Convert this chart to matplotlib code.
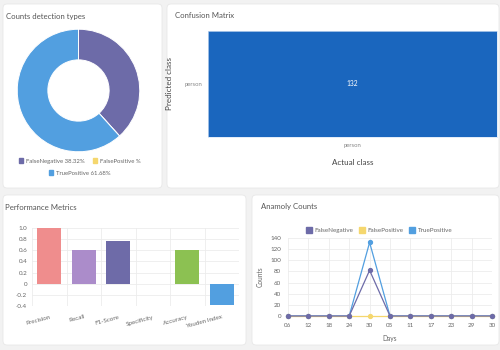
import matplotlib
matplotlib.use("Agg")
import matplotlib.pyplot as plt
from matplotlib.colors import ListedColormap
from matplotlib.patches import FancyBboxPatch, Patch
import numpy as np

plt.rcParams["font.family"] = ["Lato", "DejaVu Sans"]

# --- data ---
donut_labels = ["FalseNegative", "FalsePositive", "TruePositive"]
donut_pct = [38.32, 0.0, 61.68]
donut_legend = ["FalseNegative 38.32%", "FalsePositive %", "TruePositive 61.68%"]

cm_value = 132
cm_class = "person"

metric_names = ["Precision", "Recall", "F1-Score", "Specificity", "Accuracy", "Youden Index"]
metric_values = [1.0, 0.61, 0.76, 0.0, 0.61, -0.39]

days = ["06", "12", "18", "24", "30", "05", "11", "17", "23", "29", "30"]
false_neg = [0, 0, 0, 0, 82, 0, 0, 0, 0, 0, 0]
false_pos = [0, 0, 0, 0, 0, 0, 0, 0, 0, 0, 0]
true_pos = [0, 0, 0, 0, 132, 0, 0, 0, 0, 0, 0]

# --- colours ---
C_FN = "#6d6ba8"
C_FP = "#f5d76e"
C_TP = "#529fe0"
metric_colors = ["#ef8d8d", "#ab8cca", "#6e6ba8", "#f2c94c", "#8cc152", "#529fe0"]
TITLE_C = "#555555"
TICK_C = "#666666"
GRID_C = "#ececec"

W, H = 500, 350
fig = plt.figure(figsize=(W / 100, H / 100), dpi=100)
fig.patch.set_facecolor("#f2f2f2")


def ax_px(x0, y0, x1, y1, **kw):
    return fig.add_axes([x0 / W, 1 - y1 / H, (x1 - x0) / W, (y1 - y0) / H], **kw)


# background cards
bg = ax_px(0, 0, W, H)
bg.set_xlim(0, W)
bg.set_ylim(H, 0)
bg.axis("off")
bg.set_zorder(-5)
for x0, y0, x1, y1 in [(3, 4, 162, 188), (167, 4, 499, 188),
                       (3, 195, 246, 345), (252, 195, 499, 345)]:
    bg.add_patch(FancyBboxPatch((x0, y0), x1 - x0, y1 - y0,
                                boxstyle="round,pad=0,rounding_size=4",
                                fc="white", ec="#e8e8e8", lw=0.6))

TS = 5.6
fig.text(6 / W, 1 - 16 / H, "Counts detection types", fontsize=TS, color=TITLE_C, va="center")
fig.text(175 / W, 1 - 16 / H, "Confusion Matrix", fontsize=TS, color=TITLE_C, va="center")
fig.text(5 / W, 1 - 208 / H, "Performance Metrics", fontsize=TS, color=TITLE_C, va="center")
fig.text(261 / W, 1 - 207 / H, "Anamoly Counts", fontsize=TS, color=TITLE_C, va="center")

# --- donut ---
ax1 = ax_px(16, 28, 141, 153)
ax1.pie(donut_pct, colors=[C_FN, C_FP, C_TP], startangle=90, counterclock=False,
        radius=1, wedgeprops=dict(width=0.5, edgecolor="white", linewidth=0.7))
ax1.set_xlim(-1.02, 1.02)
ax1.set_ylim(-1.02, 1.02)
legend_kw = dict(loc="center", frameon=False, fontsize=4.3, handlelength=0.7,
                 handleheight=0.7, handletextpad=0.5, columnspacing=1.4)
colors3 = [C_FN, C_FP, C_TP]
leg_a = fig.legend([Patch(color=c) for c in colors3[:2]], donut_legend[:2], ncol=2,
                   bbox_to_anchor=(80 / W, 1 - 161 / H), **legend_kw)
leg_b = fig.legend([Patch(color=colors3[2])], donut_legend[2:], ncol=1,
                   bbox_to_anchor=(80 / W, 1 - 173 / H), **legend_kw)
for lg in (leg_a, leg_b):
    for t in lg.get_texts():
        t.set_color(TICK_C)

# --- confusion matrix ---
ax2 = ax_px(208, 31, 497, 137)
ax2.imshow([[cm_value]], cmap=ListedColormap(["#1a66be"]), aspect="auto")
ax2.text(0, 0, str(cm_value), color="white", ha="center", va="center", fontsize=4.8)
ax2.set_xticks([0], labels=[cm_class])
ax2.set_yticks([0], labels=[cm_class])
ax2.tick_params(length=0, labelsize=4.3, labelcolor="#888888", pad=4)
for s in ax2.spines.values():
    s.set_color("#d6e4f5")
    s.set_linewidth(0.5)
ax2.set_xlabel("Actual class", fontsize=5.8, color="#444444", labelpad=8)
ax2.set_ylabel("Predicted class", fontsize=5.8, color="#444444", labelpad=8)

# --- performance metrics ---
ax3 = ax_px(32, 228, 239, 306)
x = np.arange(len(metric_names))
ax3.bar(x, metric_values, width=0.7, color=metric_colors, zorder=3)
ax3.set_xlim(-0.5, len(metric_names) - 0.5)
ax3.set_ylim(-0.4, 1.0)
ax3.set_yticks(np.arange(-0.4, 1.01, 0.2))
ax3.set_yticklabels(["-0.4", "-0.2", "0", "0.2", "0.4", "0.6", "0.8", "1.0"])
ax3.set_xticks(x)
ax3.set_xticklabels(metric_names, rotation=15, ha="right", rotation_mode="anchor")
ax3.set_xticks(np.arange(-0.5, len(metric_names), 1), minor=True)
ax3.grid(True, axis="y", color=GRID_C, lw=0.6, zorder=0)
ax3.grid(True, axis="x", which="minor", color=GRID_C, lw=0.6, zorder=0)
ax3.tick_params(axis="both", which="both", length=0, labelsize=4.5, labelcolor=TICK_C)
ax3.tick_params(axis="x", pad=6)
for s in ax3.spines.values():
    s.set_visible(False)

# --- anomaly counts ---
ax4 = ax_px(288, 238, 492, 316)
xi = np.arange(len(days))
ax4.plot(xi, true_pos, color=C_TP, lw=0.9, marker="o", ms=2.8, zorder=3, clip_on=False)
ax4.plot(xi, false_pos, color=C_FP, lw=0.9, marker="o", ms=2.8, zorder=4, clip_on=False)
ax4.plot(xi, false_neg, color=C_FN, lw=0.9, marker="o", ms=2.8, zorder=5, clip_on=False)
ax4.set_xlim(0, len(days) - 1)
ax4.set_ylim(0, 140)
ax4.set_yticks(range(0, 141, 20))
ax4.set_xticks(xi, labels=days)
ax4.grid(True, color=GRID_C, lw=0.6, zorder=0)
ax4.tick_params(axis="both", length=0, labelsize=4.5, labelcolor=TICK_C, pad=5)
for s in ax4.spines.values():
    s.set_visible(False)
ax4.set_xlabel("Days", fontsize=4.8, color=TICK_C, labelpad=5)
ax4.set_ylabel("Counts", fontsize=4.8, color=TICK_C, labelpad=5)
h4 = [Patch(fc=c, ec=c) for c in [C_FN, C_FP, C_TP]]
leg4 = fig.legend(h4, donut_labels, loc="center", bbox_to_anchor=(379 / W, 1 - 230 / H),
                  ncol=3, frameon=False, fontsize=4.5, handlelength=1.0, handleheight=1.0,
                  handletextpad=0.4, columnspacing=0.9)
for t in leg4.get_texts():
    t.set_color(TICK_C)

fig.savefig("out.png", dpi=100, facecolor=fig.get_facecolor())
